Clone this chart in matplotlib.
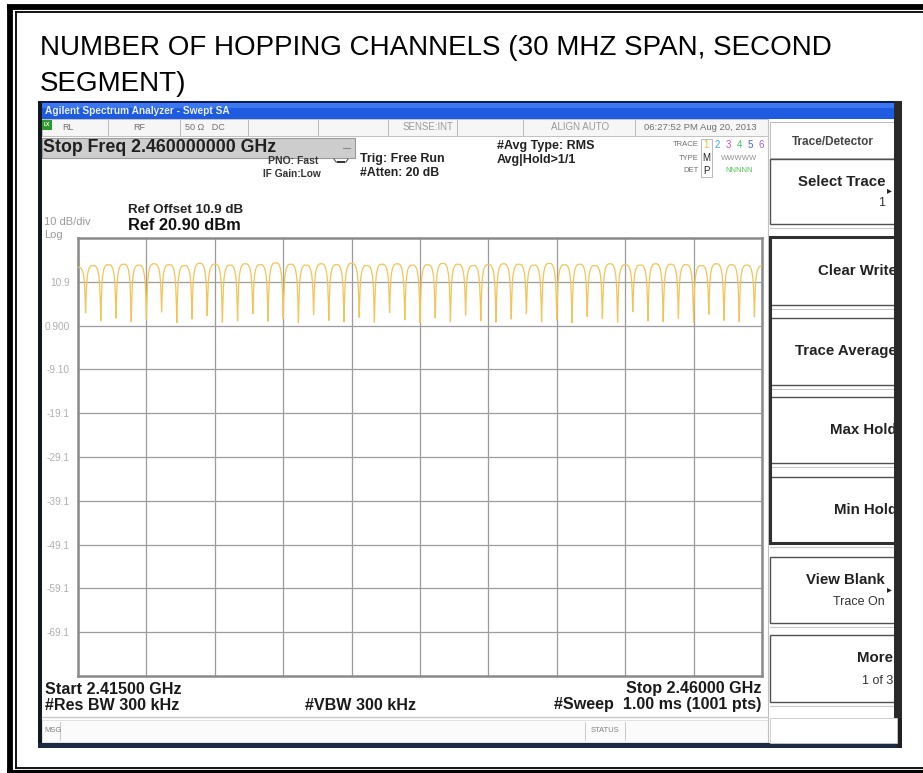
import numpy as np
import matplotlib.pyplot as plt
from matplotlib.patches import Rectangle

plt.rcParams["font.family"] = ["Liberation Sans", "DejaVu Sans"]

W, H = 923, 773

# ---- trace data ----
CHANNEL_MHZ = [2415, 2416, 2417, 2418, 2419, 2420, 2421, 2422, 2423, 2424,
               2425, 2426, 2427, 2428, 2429, 2430, 2431, 2432, 2433, 2434,
               2435, 2436, 2437, 2438, 2439, 2440, 2441, 2442, 2443, 2444,
               2445, 2446, 2447, 2448, 2449, 2450, 2451, 2452, 2453, 2454,
               2455, 2456, 2457, 2458, 2459, 2460]
PEAK_DBM = [14.2, 14.6, 14.8, 14.9, 14.7, 15.0, 14.8, 14.6, 15.1, 14.9,
            14.7, 15.0, 14.8, 15.2, 14.9, 14.7, 15.0, 14.8, 15.1, 14.6,
            14.9, 15.0, 14.7, 14.8, 15.1, 14.9, 14.6, 14.8, 15.0, 14.9,
            14.7, 15.1, 14.8, 14.9, 14.6, 15.0, 14.8, 14.7, 15.0, 14.9,
            14.8, 14.6, 15.0, 14.8, 14.7, 14.5]
DIP_DBM = [3.8, 2.0, 2.6, 1.8, 2.2, 4.0, 1.6, 2.4, 3.2, 1.7,
           2.0, 3.6, 1.9, 2.5, 1.6, 3.4, 2.1, 1.8, 2.8, 1.7,
           3.9, 2.2, 1.6, 2.7, 1.8, 3.3, 2.0, 1.7, 2.4, 3.7,
           1.8, 2.2, 1.6, 3.0, 2.5, 1.7, 4.1, 2.0, 1.8, 2.6,
           1.7, 3.5, 2.1, 1.8, 2.9]
# shape of one channel hump (offset from centre, fraction of dip->peak)
HUMP_OFFSET_MHZ = [-0.5, -0.47, -0.43, -0.38, -0.3, -0.2, -0.1, 0.0,
                   0.1, 0.2, 0.3, 0.38, 0.43, 0.47, 0.5]
HUMP_FRACTION = [0.0, 0.32, 0.62, 0.8, 0.92, 0.98, 1.0, 1.0,
                 1.0, 0.98, 0.92, 0.8, 0.62, 0.32, 0.0]

X_GRID_MHZ = [2415.0, 2419.5, 2424.0, 2428.5, 2433.0, 2437.5,
              2442.0, 2446.5, 2451.0, 2455.5, 2460.0]
Y_TICKS = [10.9, 0.9, -9.1, -19.1, -29.1, -39.1, -49.1, -59.1, -69.1]
Y_TICK_LABELS = ["10.9", "0.900", "-9.10", "-19.1", "-29.1",
                 "-39.1", "-49.1", "-59.1", "-69.1"]
REF_LEVEL = 20.9
BOTTOM_LEVEL = -79.1

SOFTKEYS = ["Select Trace", "Clear Write", "Trace Average",
            "Max Hold", "Min Hold", "View Blank", "More"]
SOFTKEY_SUB = ["1", "", "", "", "", "Trace On", "1 of 3"]


def build_trace():
    xs, ys = [], []
    off = np.array(HUMP_OFFSET_MHZ)
    frac = np.array(HUMP_FRACTION)
    n = len(CHANNEL_MHZ)
    for i, c in enumerate(CHANNEL_MHZ):
        left = DIP_DBM[i - 1] if i > 0 else DIP_DBM[0]
        right = DIP_DBM[i] if i < n - 1 else DIP_DBM[-1]
        dip = np.where(off < 0, left, right)
        xs.append(c + off)
        ys.append(dip + (PEAK_DBM[i] - dip) * frac)
    return np.concatenate(xs), np.concatenate(ys)


fig = plt.figure(figsize=(W / 100, H / 100), dpi=100)
bg = fig.add_axes([0, 0, 1, 1])
bg.set_xlim(0, W)
bg.set_ylim(H, 0)
bg.axis("off")


def rect(x0, y0, x1, y1, fc="none", ec="none", lw=1.0, z=1):
    bg.add_patch(Rectangle((x0, y0), x1 - x0, y1 - y0, fc=fc, ec=ec,
                           lw=lw, zorder=z))


def txt(x, y, s, size=7, weight="normal", color="black", ha="left",
        va="center", z=5, **kw):
    bg.text(x, y, s, fontsize=size, fontweight=weight, color=color,
            ha=ha, va=va, zorder=z, **kw)


# outer document frame
bg.plot([7, W], [6.5, 6.5], color="black", lw=4.2, solid_capstyle="butt")
bg.plot([15.5, W], [12, 12], color="black", lw=1.3)
bg.plot([9.5, 9.5], [4.5, H], color="black", lw=4.2, solid_capstyle="butt")
bg.plot([16, 16], [12, 768], color="black", lw=1.3)
bg.plot([16, W], [768, 768], color="black", lw=1.3)
bg.plot([7, W], [772, 772], color="black", lw=3.0, solid_capstyle="butt")

txt(40, 48, "NUMBER OF HOPPING CHANNELS (30 MHZ SPAN, SECOND", size=20)
txt(40, 84, "SEGMENT)", size=20)

# analyser window
rect(38, 101, 902, 748, fc="white", ec="none", z=1)
rect(38, 101, 42, 748, fc="#101820", z=2)
rect(38, 743, 902, 748, fc="#1c2a44", z=2)
rect(897, 101, 902, 748, fc="#202020", z=2)
rect(42, 101, 900, 103, fc="#0a1a60", z=2)
rect(42, 103, 900, 119, fc="#1f5be0", z=2)
rect(42, 103, 900, 108, fc="#3b78f0", z=2)
txt(45, 111, "Agilent Spectrum Analyzer - Swept SA", size=7.3,
    color="#e8f0ff", weight="bold")

# status row
rect(42, 119, 768, 136, fc="#f6f6f6", ec="#b8b8b8", lw=0.6, z=2)
for xd in [108, 180, 248, 318, 388, 457, 523, 635]:
    bg.plot([xd, xd], [120, 135], color="#b0b0b0", lw=0.6, zorder=3)
rect(42, 120, 52, 130, fc="#2e9a2e", z=3)
txt(47, 125, "LX", size=3.5, color="white", ha="center", weight="bold")
txt(62, 127, "RL", size=6.5, color="#707070")
txt(133, 127, "RF", size=6.5, color="#707070")
txt(185, 127, "50 \u03a9   DC", size=6.5, color="#707070")
txt(428, 127, "SENSE:INT", size=7, color="#9a9a9a", ha="center")
txt(580, 127, "ALIGN AUTO", size=7, color="#9a9a9a", ha="center")
txt(700, 127, "06:27:52 PM Aug 20, 2013", size=6.8, color="#707070",
    ha="center")

# active function box
rect(42, 138, 355, 158, fc="#cdcdcd", ec="#9a9a9a", lw=0.8, z=2)
bg.plot([343, 350], [148, 148], color="#8a8a8a", lw=0.8, zorder=3)
txt(43, 148, "Stop Freq 2.460000000 GHz", size=12.8, weight="bold",
    color="#202020")

txt(268, 161, "PNO: Fast", size=7.5, weight="bold", color="#333333")
txt(263, 174, "IF Gain:Low", size=7.3, weight="bold", color="#333333")
bg.plot([334, 336, 346, 348], [159, 162, 162, 159], color="#555555",
        lw=0.8, zorder=3)
bg.plot([338, 344], [162, 162], color="#333333", lw=1.4, zorder=3)
txt(360, 159, "Trig: Free Run", size=9, weight="bold", color="#222222")
txt(360, 173, "#Atten: 20 dB", size=8.8, weight="bold", color="#222222")
txt(497, 146, "#Avg Type: RMS", size=9, weight="bold", color="#222222")
txt(497, 160, "Avg|Hold>1/1", size=9, weight="bold", color="#222222")

txt(699, 145, "TRACE", size=5.5, color="#707070", ha="right")
txt(699, 158, "TYPE", size=5.5, color="#707070", ha="right")
txt(699, 171, "DET", size=5.5, color="#707070", ha="right")
rect(701, 139, 712, 177, fc="none", ec="#b0b0b0", lw=0.6, z=3)
trace_cols = ["#e0c040", "#40b0e0", "#d050c0", "#40c060", "#5060e0",
              "#a060d0"]
for k, col in enumerate(trace_cols):
    txt(706.5 + k * 11, 145, str(k + 1), size=7, color=col, ha="center")
txt(706.5, 158, "M", size=7, color="#222222", ha="center")
txt(739, 158, "WWWWW", size=5.5, color="#909090", ha="center")
txt(706.5, 171, "P", size=7, color="#222222", ha="center")
txt(739, 171, "NNNNN", size=5.5, color="#50c050", ha="center")

txt(128, 210, "Ref Offset 10.9 dB", size=9.6, weight="bold", color="#222222")
txt(128, 225, "Ref 20.90 dBm", size=11.8, weight="bold", color="#111111")
txt(44, 222, "10 dB/div", size=8, color="#9a9a9a")
txt(44, 235, "Log", size=8, color="#9a9a9a")

# bottom annotations
txt(45, 689, "Start 2.41500 GHz", size=11.6, weight="bold", color="#1a1a1a")
txt(45, 705, "#Res BW 300 kHz", size=11.6, weight="bold", color="#1a1a1a")
txt(305, 705, "#VBW 300 kHz", size=11.6, weight="bold", color="#1a1a1a")
txt(761, 689, "Stop 2.46000 GHz", size=11.6, weight="bold",
    color="#1a1a1a", ha="right")
txt(761, 705, "#Sweep  1.00 ms (1001 pts)", size=11.6, weight="bold",
    color="#1a1a1a", ha="right")
bg.plot([42, 768], [717, 717], color="#c8c8c8", lw=1.0, zorder=3)
rect(42, 720, 768, 742, fc="#fbfbfb", ec="#d8d8d8", lw=0.5, z=2)
bg.plot([60, 60], [722, 740], color="#c0c0c0", lw=0.6, zorder=3)
bg.plot([585, 585], [722, 740], color="#c0c0c0", lw=0.6, zorder=3)
bg.plot([625, 625], [722, 740], color="#c0c0c0", lw=0.6, zorder=3)
txt(44, 731, "MSG", size=5.5, color="#808080")
txt(605, 731, "STATUS", size=5.5, color="#808080", ha="center")
bg.plot([768, 768], [119, 742], color="#c0c0c0", lw=0.8, zorder=3)

# softkey panel
rect(770, 122, 897, 158, fc="white", ec="#b0b0b0", lw=0.6, z=2)
txt(833, 142, "Trace/Detector", size=8.5, weight="bold", color="#444444",
    ha="center")
key_boxes = [(159, 224), (237, 305), (318, 385), (397, 463),
             (477, 543), (557, 623), (635, 702)]
for (y0, y1), name, sub in zip(key_boxes, SOFTKEYS, SOFTKEY_SUB):
    rect(770, y0, 897, y1, fc="white", ec="#505050", lw=1.0, z=2)
    bg.plot([770, 897], [y1 + 4, y1 + 4], color="#c8c8c8", lw=0.8, zorder=2)
    ty = (y0 + y1) / 2 - (10 if sub else 0)
    if name in ("Select Trace", "View Blank"):
        right = 885
    elif name == "More":
        right = 893
    else:
        right = 897
    txt(right, ty, name, size=10.8, weight="bold", color="#222222",
        ha="right", z=3)
    if sub:
        txt(right if right < 890 else 893, ty + 22, sub, size=9,
            color="#333333", ha="right", z=3)
    if name in ("Select Trace", "View Blank"):
        txt(887, ty + 9, "\u25b8", size=7, color="#222222", z=3)
# selected group outline
rect(770, 237, 896, 543, fc="none", ec="#303030", lw=2.2, z=4)
rect(894, 101, 902, 718, fc="#2a2a2a", z=4)
rect(770, 718, 897, 743, fc="white", ec="#c8c8c8", lw=0.6, z=2)

# ---- graticule and trace ----
ax = fig.add_axes([78 / W, 1 - 676 / H, 684 / W, 438 / H])
ax.set_facecolor("white")
fx, fy = build_trace()
ax.plot(fx, fy, color="#f3c458", lw=0.9, zorder=3)
ax.set_xlim(CHANNEL_MHZ[0], CHANNEL_MHZ[-1])
ax.set_ylim(BOTTOM_LEVEL, REF_LEVEL)
ax.set_xticks(X_GRID_MHZ)
ax.set_xticklabels([])
ax.set_yticks(Y_TICKS)
ax.set_yticklabels(Y_TICK_LABELS)
ax.tick_params(length=0, labelsize=7.3, labelcolor="#b0b0b0", pad=6)
ax.grid(True, color="#9c9c9c", lw=0.9)
for s in ax.spines.values():
    s.set_color("#8a8a8a")
    s.set_linewidth(1.8)

fig.savefig("out.png", dpi=100)
